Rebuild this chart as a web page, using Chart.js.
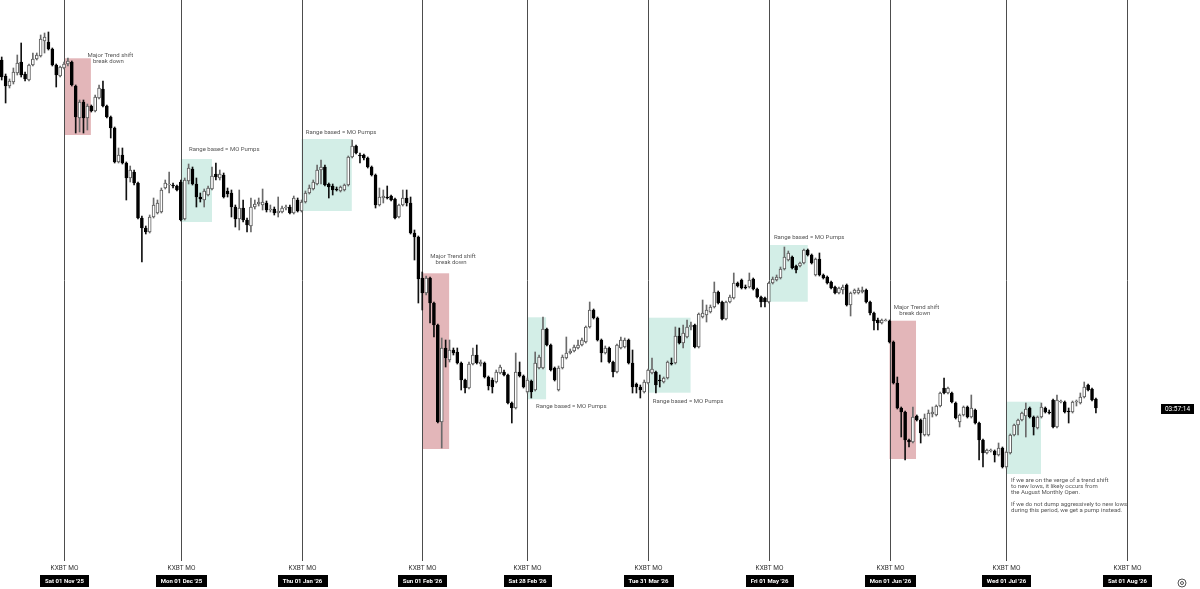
<!DOCTYPE html>
<html lang="en">
    <head>
        <meta charset="utf-8" />
        <title>KXBT MO - Daily</title>
        <meta name="viewport" content="width=device-width, initial-scale=1" />
        <style>
            html,
            body {
                margin: 0;
                padding: 0;
                background-color: #ffffff;
            }

            .chart-wrap {
                position: relative;
                width: 1200px;
                height: 589px;
            }
        </style>
    </head>
    <body>
        <div class="chart-wrap">
            <canvas id="kt_chart_kxbt"></canvas>
        </div>

        <script src="https://cdn.jsdelivr.net/npm/chart.js"></script>
        <script>
            // daily candles, day 0 = Sat 01 Nov '25, first candle is day -16
            const firstDay = -16;

            const opens = [
                540, 524, 514, 518, 527, 538, 526, 520, 535, 541,
                544, 559, 558, 551, 535, 524, 532, 536, 538, 514,
                482, 498, 482, 494, 489, 502, 511, 494, 483, 472,
                438, 445, 437, 422, 428, 417, 382, 372, 368, 383,
                387, 388, 412, 415, 415, 414, 418, 381, 419, 431,
                416, 403, 400, 405, 411, 426, 422, 425, 409, 407,
                393, 381, 392, 380, 374, 393, 396, 395, 397, 390,
                391, 387, 388, 392, 393, 387, 400, 389, 398, 407,
                411, 416, 430, 433, 416, 414, 411, 409, 410, 415,
                443, 454, 445, 445, 442, 433, 425, 395, 402, 403,
                404, 401, 383, 395, 402, 397, 367, 363, 322, 307,
                322, 297, 275, 178, 252, 240, 250, 248, 237, 220,
                212, 236, 245, 236, 237, 223, 220, 218, 227, 228,
                225, 197, 192, 228, 224, 208, 219, 210, 232, 232,
                271, 255, 232, 210, 232, 242, 247, 249, 252, 255,
                258, 273, 290, 282, 260, 247, 252, 238, 228, 252,
                253, 260, 237, 216, 213, 208, 217, 227, 228, 220,
                218, 222, 237, 237, 264, 257, 263, 273, 275, 253,
                283, 285, 288, 293, 308, 298, 281, 298, 302, 317,
                320, 313, 313, 321, 311, 303, 302, 298, 317, 320,
                322, 331, 340, 343, 334, 334, 337, 350, 345, 325,
                341, 325, 323, 318, 313, 307, 310, 315, 295, 307,
                307, 308, 310, 298, 287, 280, 277, 279, 279, 258,
                217, 192, 188, 160, 158, 184, 180, 165, 165, 186,
                185, 194, 212, 207, 207, 197, 178, 185, 193, 183,
                190, 177, 160, 147, 149, 149, 145, 152, 133, 147,
                165, 175, 180, 184, 192, 183, 172, 183, 192, 188,
                200, 173, 198, 198, 189, 188, 198, 197, 203, 215,
                211, 201,
            ];

            const highs = [
                543, 526, 521, 532, 545, 557, 528, 536, 547, 547,
                565, 567, 568, 552, 536, 534, 538, 542, 539, 515,
                500, 500, 496, 495, 505, 515, 519, 495, 484, 473,
                452, 452, 438, 434, 430, 418, 384, 374, 385, 402,
                400, 412, 420, 428, 417, 415, 420, 422, 436, 433,
                422, 407, 411, 414, 433, 437, 430, 427, 412, 410,
                395, 410, 400, 382, 402, 400, 402, 411, 399, 395,
                393, 403, 394, 395, 395, 404, 402, 400, 409, 415,
                420, 435, 440, 435, 417, 416, 413, 414, 416, 444,
                460, 455, 447, 446, 443, 434, 426, 412, 410, 414,
                405, 402, 396, 410, 410, 403, 370, 364, 328, 324,
                323, 298, 276, 262, 260, 260, 252, 252, 238, 221,
                238, 252, 255, 240, 238, 224, 222, 230, 235, 230,
                226, 198, 247, 238, 225, 222, 220, 248, 245, 283,
                272, 256, 233, 234, 245, 263, 251, 255, 260, 262,
                274, 298, 291, 283, 261, 254, 253, 239, 256, 263,
                262, 261, 250, 217, 215, 220, 231, 242, 229, 225,
                223, 239, 242, 273, 272, 275, 280, 278, 276, 287,
                300, 295, 295, 318, 309, 299, 299, 305, 327, 318,
                321, 315, 327, 322, 312, 304, 303, 318, 323, 325,
                333, 353, 349, 344, 335, 338, 351, 351, 346, 342,
                347, 326, 324, 319, 314, 313, 315, 316, 308, 311,
                312, 313, 311, 299, 288, 282, 281, 281, 280, 259,
                223, 193, 189, 161, 193, 185, 181, 186, 190, 193,
                195, 208, 222, 213, 208, 198, 186, 194, 194, 205,
                191, 178, 161, 151, 151, 150, 157, 153, 149, 166,
                176, 181, 188, 197, 193, 184, 184, 197, 193, 190,
                201, 205, 200, 199, 192, 199, 200, 207, 218, 216,
                212, 202,
            ];

            const lows = [
                520, 497, 512, 516, 525, 523, 519, 519, 534, 540,
                543, 547, 550, 534, 513, 523, 531, 534, 514, 467,
                468, 467, 470, 488, 488, 501, 493, 482, 462, 437,
                437, 436, 400, 418, 415, 381, 338, 366, 367, 382,
                386, 387, 411, 407, 412, 409, 379, 380, 416, 415,
                393, 398, 393, 404, 410, 420, 420, 402, 403, 383,
                373, 370, 378, 368, 368, 391, 394, 390, 388, 388,
                385, 383, 387, 390, 386, 386, 388, 388, 397, 406,
                410, 415, 416, 414, 402, 405, 409, 408, 409, 414,
                442, 446, 437, 440, 432, 424, 392, 394, 397, 401,
                399, 381, 382, 394, 394, 366, 340, 297, 290, 305,
                277, 263, 177, 152, 233, 238, 245, 236, 210, 207,
                211, 235, 236, 234, 222, 210, 207, 217, 226, 224,
                196, 177, 191, 223, 212, 207, 202, 209, 231, 231,
                254, 229, 219, 209, 231, 241, 246, 248, 251, 254,
                257, 272, 281, 259, 238, 246, 237, 223, 227, 251,
                252, 236, 207, 207, 202, 207, 216, 226, 207, 213,
                217, 221, 235, 236, 256, 252, 262, 270, 252, 252,
                282, 278, 287, 292, 296, 280, 280, 297, 301, 313,
                311, 311, 312, 310, 302, 293, 293, 297, 316, 319,
                321, 330, 339, 331, 327, 333, 336, 344, 336, 324,
                324, 321, 316, 311, 306, 306, 306, 294, 284, 306,
                306, 307, 297, 285, 270, 270, 276, 279, 257, 216,
                191, 163, 140, 153, 157, 179, 157, 164, 164, 183,
                184, 193, 206, 206, 197, 181, 173, 184, 182, 182,
                176, 140, 133, 146, 148, 138, 144, 132, 132, 146,
                164, 165, 179, 163, 182, 165, 171, 182, 187, 186,
                172, 172, 197, 187, 177, 187, 194, 196, 202, 209,
                199, 187,
            ];

            const closes = [
                523, 514, 519, 528, 537, 525, 521, 535, 541, 545,
                561, 563, 551, 535, 525, 533, 536, 539, 515, 483,
                498, 482, 494, 489, 503, 512, 494, 483, 472, 438,
                445, 437, 422, 430, 417, 382, 372, 368, 383, 395,
                397, 410, 417, 416, 414, 410, 380, 420, 432, 416,
                403, 401, 409, 412, 424, 423, 426, 403, 406, 393,
                381, 392, 380, 375, 393, 396, 398, 398, 390, 391,
                387, 389, 392, 393, 387, 402, 389, 398, 407, 412,
                418, 430, 433, 415, 413, 410, 410, 413, 415, 443,
                454, 447, 444, 442, 433, 425, 395, 403, 404, 402,
                400, 382, 395, 402, 397, 367, 363, 321, 307, 322,
                297, 275, 178, 252, 242, 250, 247, 237, 220, 212,
                236, 245, 237, 238, 223, 214, 213, 228, 233, 225,
                197, 192, 228, 224, 213, 220, 208, 237, 243, 271,
                255, 230, 220, 232, 243, 247, 249, 253, 255, 260,
                273, 290, 282, 260, 247, 252, 238, 228, 255, 260,
                260, 237, 213, 213, 210, 218, 230, 231, 215, 219,
                222, 238, 236, 264, 257, 267, 273, 275, 253, 286,
                287, 290, 293, 308, 297, 281, 298, 303, 317, 314,
                312, 312, 320, 311, 303, 298, 298, 317, 321, 323,
                331, 343, 347, 332, 330, 337, 350, 345, 337, 341,
                325, 322, 317, 312, 307, 312, 313, 295, 307, 310,
                310, 310, 298, 287, 279, 277, 280, 280, 258, 217,
                192, 188, 160, 158, 183, 180, 167, 182, 187, 188,
                194, 207, 207, 212, 198, 182, 185, 193, 183, 192,
                177, 160, 147, 150, 150, 145, 152, 133, 148, 165,
                175, 180, 187, 191, 183, 173, 183, 193, 188, 187,
                173, 200, 199, 188, 188, 198, 199, 203, 213, 210,
                200, 192,
            ];

            // monthly open markers
            const moDays = [0, 30, 61, 92, 119, 150, 181, 212, 242, 273];
            const moLabels = [
                "Sat 01 Nov '25",
                "Mon 01 Dec '25",
                "Thu 01 Jan '26",
                "Sun 01 Feb '26",
                "Sat 28 Feb '26",
                "Tue 31 Mar '26",
                "Fri 01 May '26",
                "Mon 01 Jun '26",
                "Wed 01 Jul '26",
                "Sat 01 Aug '26",
            ];

            // highlighted zones
            const zoneKind = ["shift", "pump", "pump", "shift", "pump", "pump", "pump", "shift", "pump"];
            const zoneStart = [0, 30, 61, 92, 119, 150, 181.3, 212, 242];
            const zoneEnd = [6.9, 38, 73.9, 98.9, 123.8, 160.9, 191, 218.8, 250.9];
            const zoneTop = [541.7, 441, 461, 326.7, 282.7, 282.3, 355, 279.3, 198.3];
            const zoneBottom = [465, 378, 389, 151, 200.7, 207.3, 298.3, 141, 126];

            // text notes
            const noteText = [
                "Major Trend shift", "break down",
                "Range based = MO Pumps",
                "Range based = MO Pumps",
                "Major Trend shift", "break down",
                "Range based = MO Pumps",
                "Range based = MO Pumps",
                "Range based = MO Pumps",
                "Major Trend shift", "break down",
                "If we are on the verge of a trend shift",
                "to new lows, it likely occurs from",
                "the August Monthly Open.",
                "If we do not dump aggressively to new lows",
                "during this period, we get a pump instead.",
            ];
            const noteDay = [
                11.9, 11.4, 32.1, 62.1, 99.9, 99.4, 121.2, 151.2, 182.3,
                218.9, 218.5, 243.2, 243.2, 243.2, 243.2, 243.2,
            ];
            const noteValue = [
                545, 538.3, 450.7, 467.7, 344, 337.3, 194, 199, 362.7,
                292.7, 286.7, 119.3, 113.3, 107.7, 95.7, 90,
            ];
            const noteAlign = [
                "center", "center", "left", "left", "center", "center", "left", "left", "left",
                "center", "center", "left", "left", "left", "left", "left",
            ];

            const countdown = "03:57:14";

            const isUp = (i) => closes[i] >= opens[i];

            const bodies = opens.map((o, i) => ({ x: firstDay + i, y: [o, closes[i]] }));
            const wicks = lows.map((l, i) => ({ x: firstDay + i, y: [l, highs[i]] }));

            const drawingsPlugin = {
                id: "moDrawings",
                beforeDatasetsDraw(chart) {
                    const { ctx, scales } = chart;
                    const x = scales.x,
                        y = scales.y;
                    ctx.save();

                    zoneKind.forEach((kind, i) => {
                        const left = x.getPixelForValue(zoneStart[i]);
                        const right = x.getPixelForValue(zoneEnd[i]);
                        const top = y.getPixelForValue(zoneTop[i]);
                        const bottom = y.getPixelForValue(zoneBottom[i]);
                        ctx.fillStyle = kind === "shift" ? "#e3b6b9" : "#d3eee7";
                        ctx.fillRect(left, top, right - left, bottom - top);
                    });

                    ctx.strokeStyle = "#4d4d4d";
                    ctx.lineWidth = 1;
                    moDays.forEach((d) => {
                        const px = Math.round(x.getPixelForValue(d)) + 0.5;
                        ctx.beginPath();
                        ctx.moveTo(px, 0);
                        ctx.lineTo(px, 561);
                        ctx.stroke();
                    });
                    ctx.restore();
                },
                afterDatasetsDraw(chart) {
                    const { ctx, scales } = chart;
                    const x = scales.x,
                        y = scales.y;
                    ctx.save();
                    ctx.textBaseline = "middle";

                    ctx.fillStyle = "#555555";
                    ctx.font = '6px Roboto, "Liberation Sans", sans-serif';
                    noteText.forEach((t, i) => {
                        ctx.textAlign = noteAlign[i];
                        ctx.fillText(t, x.getPixelForValue(noteDay[i]), y.getPixelForValue(noteValue[i]));
                    });

                    moDays.forEach((d, i) => {
                        const px = Math.round(x.getPixelForValue(d)) + 0.5;
                        ctx.textAlign = "center";
                        ctx.fillStyle = "#333333";
                        ctx.font = '6.5px Roboto, "Liberation Sans", sans-serif';
                        ctx.fillText("KXBT MO", px, 568);

                        ctx.font = 'bold 6px Roboto, "Liberation Sans", sans-serif';
                        const w = ctx.measureText(moLabels[i]).width + 10;
                        ctx.fillStyle = "#000000";
                        ctx.fillRect(Math.round(px - w / 2), 575, Math.round(w), 12);
                        ctx.fillStyle = "#ffffff";
                        ctx.fillText(moLabels[i], px, 581.5);
                    });

                    // countdown tag on the last close
                    const lastY = y.getPixelForValue(closes[closes.length - 1]);
                    ctx.fillStyle = "#000000";
                    ctx.fillRect(1161, Math.round(lastY) - 4, 33, 10);
                    ctx.fillStyle = "#ffffff";
                    ctx.font = '6.5px Roboto, "Liberation Sans", sans-serif';
                    ctx.textAlign = "center";
                    ctx.fillText(countdown, 1177.5, Math.round(lastY) + 1);

                    // small settings icon, bottom right
                    ctx.strokeStyle = "#555555";
                    ctx.lineWidth = 1;
                    ctx.beginPath();
                    ctx.arc(1182, 583, 4, 0, Math.PI * 2);
                    ctx.stroke();
                    ctx.beginPath();
                    ctx.arc(1182, 583, 1.5, 0, Math.PI * 2);
                    ctx.stroke();
                    ctx.restore();
                },
            };

            new Chart(document.getElementById("kt_chart_kxbt"), {
                type: "bar",
                data: {
                    datasets: [
                        {
                            label: "Body",
                            data: bodies,
                            order: 0,
                            grouped: false,
                            barThickness: 3,
                            minBarLength: 1,
                            borderWidth: 1,
                            borderSkipped: false,
                            backgroundColor: (c) => (isUp(c.dataIndex) ? "#ffffff" : "#000000"),
                            borderColor: (c) => (isUp(c.dataIndex) ? "#5a5a5a" : "#000000"),
                        },
                        {
                            label: "Wick",
                            data: wicks,
                            order: 1,
                            grouped: false,
                            barThickness: 1,
                            borderWidth: 0,
                            backgroundColor: (c) => (isUp(c.dataIndex) ? "#6a6a6a" : "#111111"),
                        },
                    ],
                },
                options: {
                    responsive: true,
                    maintainAspectRatio: false,
                    animation: false,
                    layout: { padding: 0 },
                    plugins: {
                        legend: { display: false },
                        tooltip: { enabled: false },
                    },
                    scales: {
                        x: {
                            type: "linear",
                            min: -16.44,
                            max: 291.73,
                            offset: false,
                            display: false,
                        },
                        y: {
                            min: 11,
                            max: 600,
                            display: false,
                        },
                    },
                },
                plugins: [drawingsPlugin],
            });
        </script>
    </body>
</html>
